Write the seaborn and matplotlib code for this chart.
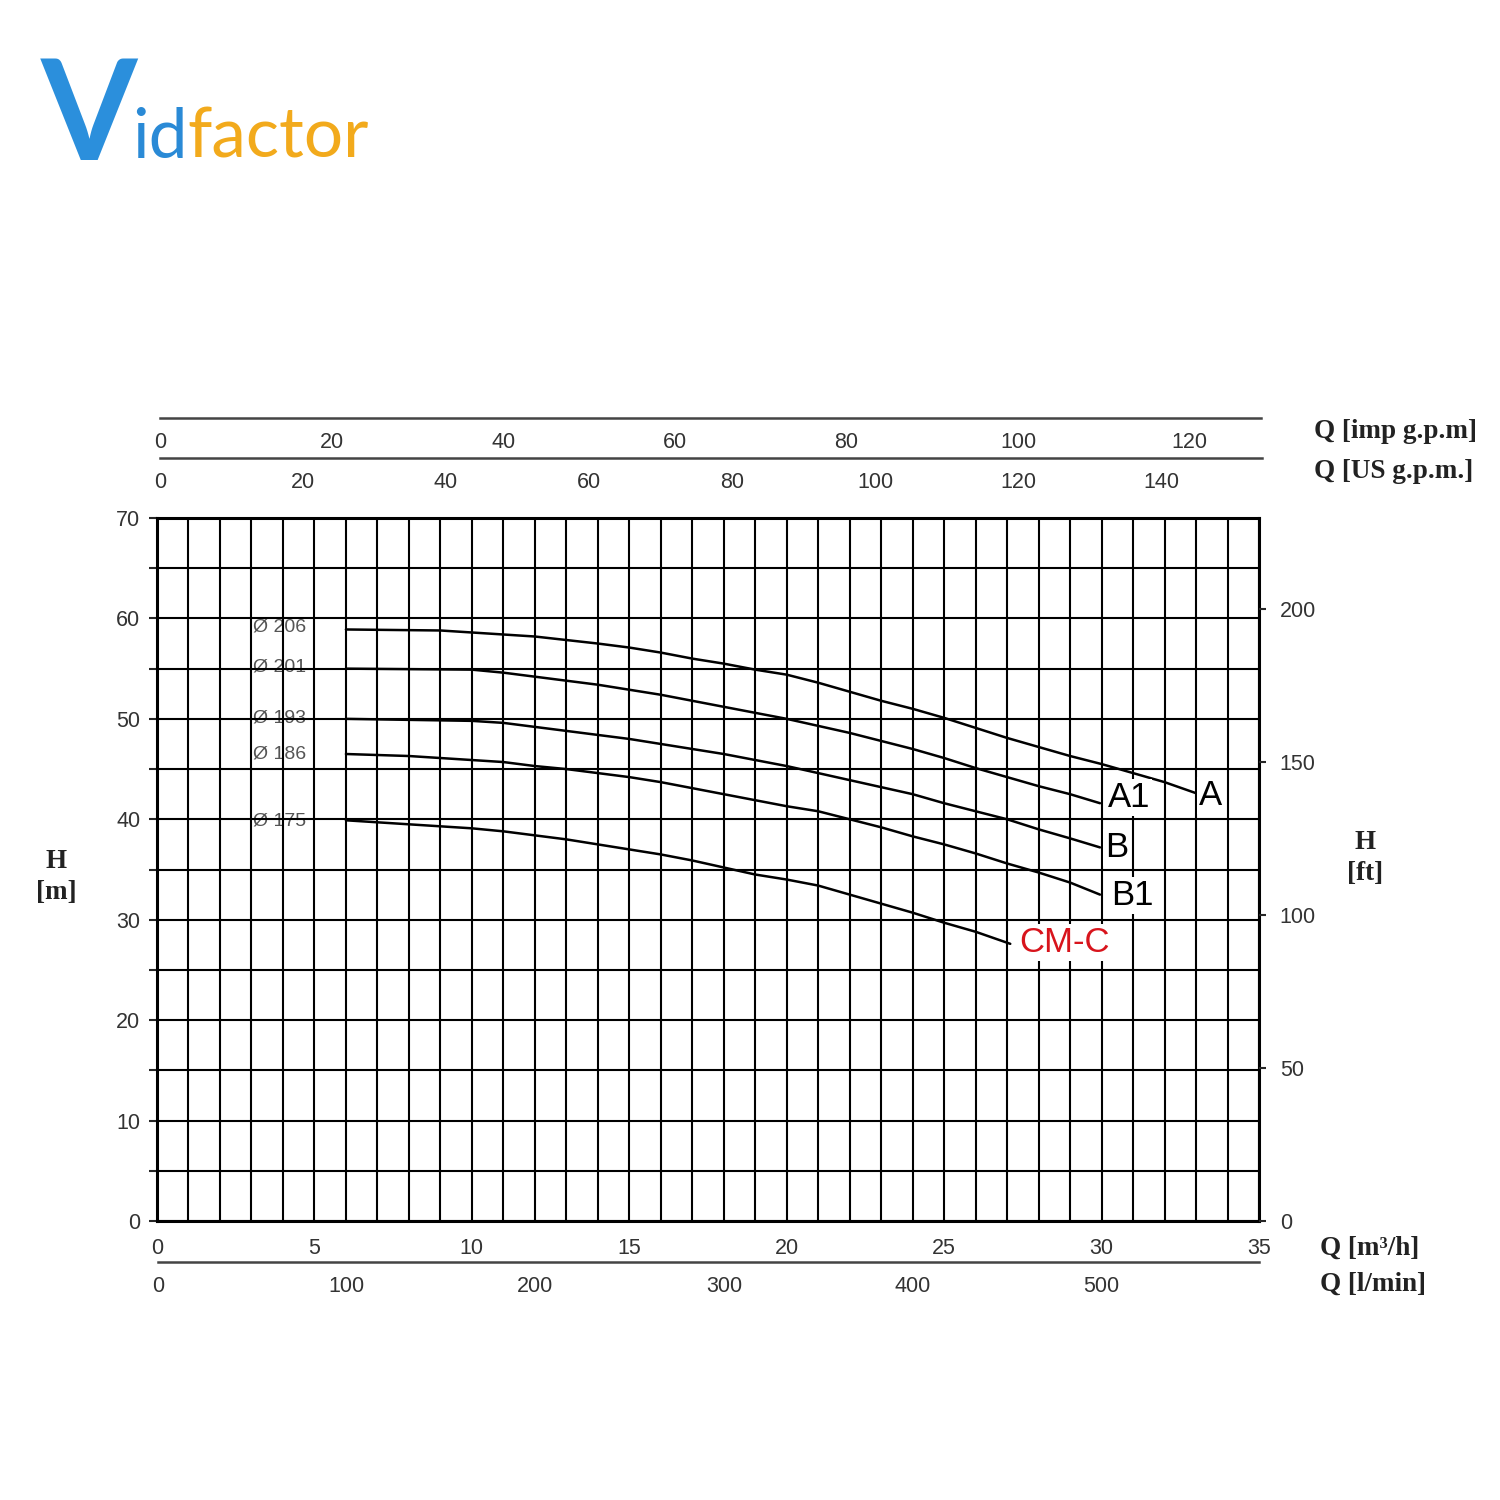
import numpy as np
import pandas as pd
import matplotlib
matplotlib.use("Agg")
import matplotlib.pyplot as plt
import seaborn as sns

# pump curves: flow Q [m3/h] and head H [m]
Q_A = [6, 9, 10, 11, 12, 13, 14, 15, 16, 17, 18, 19, 20, 21, 22, 23, 24, 25, 26, 27, 28, 29, 30, 31, 32, 33]
H_A = [58.9, 58.8, 58.6, 58.4, 58.2, 57.85, 57.5, 57.1, 56.6, 56.0, 55.5, 54.9, 54.4, 53.6, 52.7,
       51.8, 51.0, 50.1, 49.1, 48.1, 47.2, 46.3, 45.5, 44.6, 43.7, 42.6]

Q_A1 = [6, 10, 11, 12, 13, 14, 15, 16, 17, 18, 19, 20, 21, 22, 23, 24, 25, 26, 27, 28, 29, 29.95]
H_A1 = [55.0, 54.9, 54.6, 54.2, 53.8, 53.4, 52.9, 52.4, 51.8, 51.2, 50.6, 50.0, 49.3, 48.6, 47.8,
        47.0, 46.1, 45.1, 44.2, 43.3, 42.5, 41.6]

Q_B = [6, 10, 11, 12, 13, 14, 15, 16, 17, 18, 19, 20, 21, 22, 23, 24, 25, 26, 27, 28, 29, 29.95]
H_B = [50.0, 49.8, 49.6, 49.2, 48.8, 48.4, 48.0, 47.5, 47.0, 46.5, 45.9, 45.3, 44.6, 43.9, 43.2,
       42.5, 41.6, 40.8, 40.0, 39.0, 38.1, 37.2]

Q_B1 = [6, 7, 8, 9, 10, 11, 12, 13, 14, 15, 16, 17, 18, 19, 20, 21, 22, 23, 24, 25, 26, 27, 28, 29, 29.95]
H_B1 = [46.5, 46.4, 46.3, 46.1, 45.9, 45.7, 45.3, 45.0, 44.6, 44.2, 43.7, 43.1, 42.5, 41.9, 41.3,
        40.8, 40.0, 39.2, 38.3, 37.5, 36.6, 35.6, 34.7, 33.7, 32.5]

Q_C = [6, 7, 8, 9, 10, 11, 12, 13, 14, 15, 16, 17, 18, 19, 20, 21, 22, 23, 24, 25, 26, 27.1]
H_C = [39.9, 39.7, 39.5, 39.3, 39.1, 38.8, 38.4, 38.0, 37.5, 37.0, 36.5, 35.9, 35.2, 34.5, 34.0,
       33.4, 32.5, 31.6, 30.7, 29.7, 28.8, 27.6]

CURVE_NAMES = ["A", "A1", "B", "B1", "CM-C"]
DIAMETERS = ["Ø 206", "Ø 201", "Ø 193", "Ø 186", "Ø 175"]
END_LABELS = ["A", "A1", "B", "B1", "CM-C"]

# conversion factors for the secondary scales
IMP_GPM_PER_M3H = 3.6662
US_GPM_PER_M3H = 4.4029
LMIN_PER_M3H = 16.6667
FT_PER_M = 3.2808

Q_MAX = 35
H_MAX = 70


def build_frame():
    parts = []
    for name, q, h in zip(CURVE_NAMES, [Q_A, Q_A1, Q_B, Q_B1, Q_C], [H_A, H_A1, H_B, H_B1, H_C]):
        parts.append(pd.DataFrame({"Q": q, "H": h, "curve": name}))
    return pd.concat(parts, ignore_index=True)


def scale_axis(fig, rect, xmax, ticks, color="#444444"):
    """A bare horizontal scale line with ticks hanging down and labels below"""
    sx = fig.add_axes(rect)
    sx.set_xlim(0, xmax)
    sx.set_ylim(0, 1)
    for side in ["top", "left", "right"]:
        sx.spines[side].set_visible(False)
    sx.spines["bottom"].set_color(color)
    sx.spines["bottom"].set_linewidth(1.8)
    sx.set_yticks([])
    sx.set_xticks(ticks)
    sx.set_xticklabels([str(t) for t in ticks])
    sx.tick_params(axis="x", direction="out", length=6, width=1.5, color=color,
                   labelsize=15.5, labelcolor="#333333", pad=4)
    sx.patch.set_alpha(0)
    return sx


def main():
    df = build_frame()

    sns.set_style("white")
    plt.rcParams["font.family"] = ["Liberation Sans", "DejaVu Sans"]

    fig = plt.figure(figsize=(15, 15), dpi=100)
    fig.patch.set_facecolor("white")

    # logo
    fig.text(0.027, 0.893, "V", fontsize=100, fontweight="bold", color="#2b8fdc",
             family=["Lato", "DejaVu Sans"], va="baseline")
    fig.text(0.088, 0.895, "id", fontsize=50, color="#2a8ad6",
             family=["Lato", "DejaVu Sans"], va="baseline")
    fig.text(0.125, 0.895, "factor", fontsize=50, color="#f2aa1c",
             family=["Lato", "DejaVu Sans"], va="baseline")

    # main chart area
    left, bottom = 157 / 1500, 1 - 1221 / 1500
    width, height = 1102 / 1500, 703 / 1500
    ax = fig.add_axes([left, bottom, width, height])

    sns.lineplot(data=df, x="Q", y="H", units="curve", estimator=None, sort=False,
                 color="black", linewidth=1.8, ax=ax, zorder=4)

    ax.set_xlim(0, Q_MAX)
    ax.set_ylim(0, H_MAX)
    ax.set_xticks(np.arange(0, Q_MAX + 1, 5))
    ax.set_xticks(np.arange(0, Q_MAX + 1, 1), minor=True)
    ax.set_yticks(np.arange(0, H_MAX + 1, 10))
    ax.set_yticks(np.arange(0, H_MAX + 1, 5), minor=True)
    ax.grid(True, which="both", color="black", linewidth=1.5, zorder=1)
    ax.set_axisbelow(True)
    ax.tick_params(axis="both", which="major", direction="out", length=6, width=1.5,
                   labelsize=15.5, labelcolor="#333333", pad=6)
    ax.tick_params(axis="x", which="minor", length=0)
    ax.tick_params(axis="y", which="minor", direction="out", length=6, width=1.5)
    for sp in ax.spines.values():
        sp.set_color("black")
        sp.set_linewidth(2.2)
    ax.set_xlabel("")
    ax.set_ylabel("")

    # right axis in feet
    ax_ft = ax.twinx()
    ax_ft.set_ylim(0, H_MAX * FT_PER_M)
    ax_ft.set_yticks(np.arange(0, 201, 50))
    ax_ft.grid(False)
    ax_ft.tick_params(axis="y", direction="out", length=5, width=1.5,
                      labelsize=15.5, labelcolor="#333333", pad=10)
    for sp in ax_ft.spines.values():
        sp.set_visible(False)

    # diameter labels at the start of each curve
    diam_h = [59.1, 55.2, 50.1, 46.5, 39.8]
    for lab, h in zip(DIAMETERS, diam_h):
        ax.text(3.05, h, lab, fontsize=14, color="#555555", va="center", ha="left", zorder=0)

    # end-of-curve labels
    end_pos = [(33.1, 42.4), (30.2, 42.2), (30.1, 37.2), (30.3, 32.4), (27.4, 27.7)]
    for lab, (q, h) in zip(END_LABELS, end_pos):
        col = "#d8141c" if lab == "CM-C" else "black"
        ax.text(q, h, lab, fontsize=25, color=col, va="center", ha="left", zorder=5,
                bbox=dict(facecolor="white", edgecolor="none", pad=1.5))

    # extra flow scales
    scale_axis(fig, [160 / 1500, 1 - 418 / 1500, 1101 / 1500, 0.001],
               Q_MAX * IMP_GPM_PER_M3H, list(range(0, 121, 20)))
    scale_axis(fig, [160 / 1500, 1 - 458 / 1500, 1102 / 1500, 0.001],
               Q_MAX * US_GPM_PER_M3H, list(range(0, 141, 20)))
    scale_axis(fig, [158 / 1500, 1 - 1262 / 1500, 1101 / 1500, 0.001],
               Q_MAX * LMIN_PER_M3H, list(range(0, 501, 100)))

    # unit labels
    serif = dict(family=["Liberation Serif", "DejaVu Serif"], fontweight="bold",
                 fontsize=19.5, color="#222222")
    fig.text(1314 / 1500, 1 - 431 / 1500, "Q [imp g.p.m]", va="center", ha="left", **serif)
    fig.text(1314 / 1500, 1 - 471 / 1500, "Q [US g.p.m.]", va="center", ha="left", **serif)
    fig.text(1320 / 1500, 1 - 1248 / 1500, "Q [m³/h]", va="center", ha="left", **serif)
    fig.text(1320 / 1500, 1 - 1284 / 1500, "Q [l/min]", va="center", ha="left", **serif)
    fig.text(56 / 1500, 1 - 877 / 1500, "H\n[m]", va="center", ha="center",
             linespacing=1.3, **serif)
    fig.text(1365 / 1500, 1 - 858 / 1500, "H\n[ft]", va="center", ha="center",
             linespacing=1.3, **serif)

    fig.savefig("out.png", dpi=100, facecolor="white")
    plt.close(fig)


if __name__ == "__main__":
    main()
